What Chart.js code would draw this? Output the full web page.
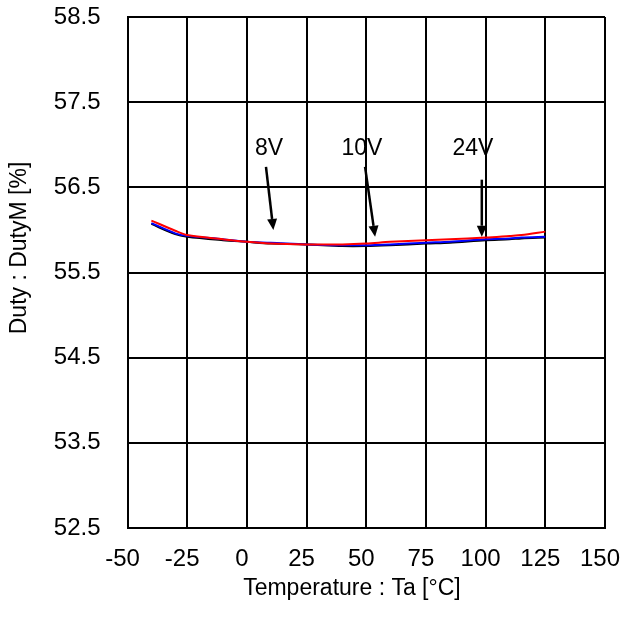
<!DOCTYPE html>
<html>
<head>
<meta charset="utf-8">
<script src="https://cdn.jsdelivr.net/npm/chart.js@4"></script>
<style>
  html, body { margin: 0; padding: 0; background: #fff; }
  #wrap { width: 622px; height: 617px; }
</style>
</head>
<body>
<div id="wrap"><canvas id="c" width="622" height="617"></canvas></div>
<script>
// Ambient temperature (°C) at which duty was measured
const temps = [-40, -30, -25, -10, 0, 10, 25, 40, 50, 60, 75, 85, 100, 110, 115, 125];

// Duty : DutyM [%] for each supply voltage
const duty24V = [56.11, 55.99, 55.94, 55.89, 55.86, 55.84, 55.83, 55.83, 55.84, 55.86, 55.88, 55.89, 55.91, 55.93, 55.94, 55.98];
const duty10V = [56.08, 55.96, 55.93, 55.89, 55.86, 55.85, 55.83, 55.82, 55.82, 55.83, 55.85, 55.86, 55.89, 55.90, 55.91, 55.92];
const duty8V  = [56.07, 55.95, 55.92, 55.88, 55.86, 55.84, 55.83, 55.81, 55.81, 55.82, 55.84, 55.85, 55.88, 55.89, 55.90, 55.91];

// Axis tick labels
const xTickLabels = ['-50', '-25', '0', '25', '50', '75', '100', '125', '150'];
const yTickLabels = ['52.5', '53.5', '54.5', '55.5', '56.5', '57.5', '58.5'];

// Axis titles
const xTitle = 'Temperature : Ta [°C]';
const yTitle = 'Duty : DutyM [%]';

// Callout labels with arrows, in data units: text position, arrow tail, arrow tip
const callouts = [
  { text: '8V',  tx: 9.3,  ty: 56.96, x0: 8.0,  y0: 56.74, x1: 11.1, y1: 56.00 },
  { text: '10V', tx: 48.2, ty: 56.96, x0: 49.5, y0: 56.74, x1: 53.7, y1: 55.92 },
  { text: '24V', tx: 94.7, ty: 56.96, x0: 98.4, y0: 56.59, x1: 98.4, y1: 55.92 }
];

const FONT = "'Liberation Sans', Arial, Helvetica, sans-serif";

const toPoints = ys => temps.map((t, i) => ({ x: t, y: ys[i] }));

// Axis titles drawn by hand so they sit where the layout wants them
const titlePlugin = {
  id: 'axisTitles',
  afterDraw(chart) {
    const { ctx, chartArea } = chart;
    ctx.save();
    ctx.fillStyle = '#000';
    ctx.font = '23px ' + FONT;
    ctx.textAlign = 'center';
    ctx.textBaseline = 'middle';
    ctx.fillText(xTitle, chartArea.left + (chartArea.right - chartArea.left) * 0.47, 589);
    ctx.translate(20, chartArea.top + (chartArea.bottom - chartArea.top) * 0.452);
    ctx.rotate(-Math.PI / 2);
    ctx.fillText(yTitle, 0, 0);
    ctx.restore();
  }
};

const calloutPlugin = {
  id: 'callouts',
  afterDatasetsDraw(chart) {
    const { ctx, scales: { x, y } } = chart;
    ctx.save();
    ctx.fillStyle = '#000';
    ctx.strokeStyle = '#000';
    ctx.font = '23px ' + FONT;
    ctx.textAlign = 'center';
    ctx.textBaseline = 'middle';
    callouts.forEach(c => {
      ctx.fillText(c.text, x.getPixelForValue(c.tx), y.getPixelForValue(c.ty));
      const ax = x.getPixelForValue(c.x0), ay = y.getPixelForValue(c.y0);
      const bx = x.getPixelForValue(c.x1), by = y.getPixelForValue(c.y1);
      const ang = Math.atan2(by - ay, bx - ax);
      const headLen = 11, headHalf = 5;
      const hx = bx - headLen * Math.cos(ang), hy = by - headLen * Math.sin(ang);
      ctx.lineWidth = 2.5;
      ctx.beginPath();
      ctx.moveTo(ax, ay);
      ctx.lineTo(hx, hy);
      ctx.stroke();
      ctx.beginPath();
      ctx.moveTo(bx, by);
      ctx.lineTo(hx + headHalf * Math.sin(ang), hy - headHalf * Math.cos(ang));
      ctx.lineTo(hx - headHalf * Math.sin(ang), hy + headHalf * Math.cos(ang));
      ctx.closePath();
      ctx.fill();
    });
    ctx.restore();
  }
};

new Chart(document.getElementById('c'), {
  type: 'line',
  data: {
    datasets: [
      { label: '24V', data: toPoints(duty24V), borderColor: '#ff0000' },
      { label: '10V', data: toPoints(duty10V), borderColor: '#0000ff' },
      { label: '8V',  data: toPoints(duty8V),  borderColor: '#000000' }
    ]
  },
  options: {
    responsive: false,
    animation: false,
    events: [],
    datasets: {
      line: { borderWidth: 2, pointRadius: 0, tension: 0.3, fill: false }
    },
    layout: { padding: { top: 17, right: 17, left: 0, bottom: 0 } },
    plugins: { legend: { display: false }, tooltip: { enabled: false } },
    scales: {
      x: {
        type: 'linear',
        min: -50, max: 150,
        afterBuildTicks: s => { s.ticks = xTickLabels.map(v => ({ value: Number(v) })); },
        afterFit: s => { s.height = 89; s.paddingLeft = 0; s.paddingRight = 0; },
        ticks: {
          color: '#000', font: { family: FONT, size: 24 }, padding: 17,
          maxRotation: 0, autoSkip: false, labelOffset: -5,
          callback: (v, i) => xTickLabels[i]
        },
        grid: { color: '#000', lineWidth: 2, drawTicks: false },
        border: { display: true, color: '#000', width: 2 }
      },
      y: {
        type: 'linear',
        min: 52.5, max: 58.5,
        afterBuildTicks: s => { s.ticks = yTickLabels.map(v => ({ value: Number(v) })); },
        afterFit: s => { s.width = 127.5; s.paddingTop = 0; s.paddingBottom = 0; },
        ticks: {
          color: '#000', font: { family: FONT, size: 24 }, padding: 27,
          autoSkip: false,
          callback: (v, i) => yTickLabels[i]
        },
        grid: { color: '#000', lineWidth: 2, drawTicks: false },
        border: { display: true, color: '#000', width: 2 }
      }
    }
  },
  plugins: [calloutPlugin, titlePlugin]
});
</script>
</body>
</html>
